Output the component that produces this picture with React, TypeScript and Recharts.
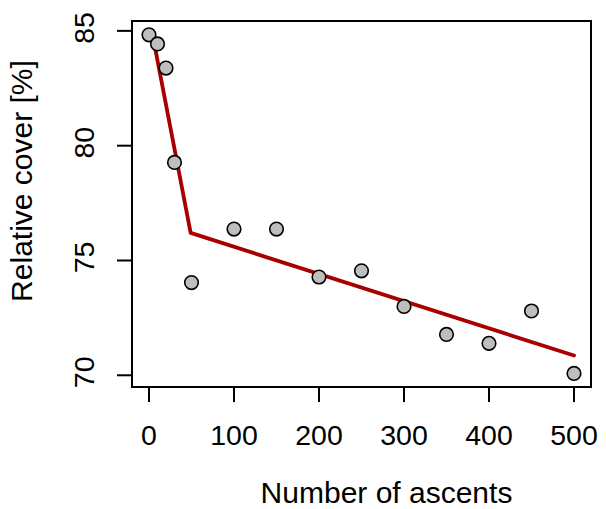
import React from 'react';
import { ComposedChart, XAxis, YAxis, Scatter, Line, ReferenceArea, Label } from 'recharts';

const ascents = [0, 10, 20, 30, 50, 100, 150, 200, 250, 300, 350, 400, 450, 500];
const cover = [84.83, 84.43, 83.38, 79.27, 74.04, 76.37, 76.37, 74.28, 74.55, 73.0, 71.78, 71.39, 72.8, 70.08];
const fitX = [5, 49, 500];
const fitY = [84.67, 76.2, 70.86];
const xTicks = [0, 100, 200, 300, 400, 500];
const yTicks = [70, 75, 80, 85];
const xLabel = 'Number of ascents';
const yLabel = 'Relative cover [%]';

const points = ascents.map((x, i) => ({ x, y: cover[i] }));
const fitLine = fitX.map((x, i) => ({ x, y: fitY[i] }));

const FONT = '"Liberation Sans", Arial, Helvetica, sans-serif';
const X_DOMAIN: [number, number] = [-20, 520];
const Y_DOMAIN: [number, number] = [69.49, 85.43];

const XTick = (props: any) => {
  const { x, y, payload } = props;
  return (
    <text x={x} y={y + 42.6} textAnchor="middle" fontSize={28.5} fontFamily={FONT} fill="#000">
      {payload.value}
    </text>
  );
};

const YTick = (props: any) => {
  const { x, y, payload } = props;
  const cx = x - 23.2;
  const cy = y - 3;
  return (
    <text x={cx} y={cy} transform={`rotate(-90, ${cx}, ${cy})`} textAnchor="middle" fontSize={28.5} fontFamily={FONT} fill="#000">
      {payload.value}
    </text>
  );
};

const XTitle = () => (
  <text x={386.5} y={503} textAnchor="middle" fontSize={30} fontFamily={FONT} fill="#000">
    {xLabel}
  </text>
);

const YTitle = () => (
  <text x={32.3} y={181} transform="rotate(-90, 32.3, 181)" textAnchor="middle" fontSize={30} fontFamily={FONT} fill="#000">
    {yLabel}
  </text>
);

const Dot = (props: any) => {
  const { cx, cy } = props;
  return <circle cx={cx} cy={cy} r={6.8} fill="#BEBEBE" stroke="#000" strokeWidth={1.6} />;
};

export default function App() {
  return (
    <div style={{ position: 'absolute', left: 0, top: 0, width: 606, height: 509, background: '#fff' }}>
      <ComposedChart width={606} height={509} margin={{ top: 21, right: 15, bottom: 0, left: 0 }}>
        <XAxis
          type="number"
          dataKey="x"
          domain={X_DOMAIN}
          ticks={xTicks}
          interval={0}
          allowDataOverflow
          axisLine={false}
          tickLine={{ stroke: '#000', strokeWidth: 2 }}
          tickSize={15}
          tickMargin={0}
          height={122}
          tick={XTick}
        >
          <Label content={XTitle} />
        </XAxis>
        <YAxis
          type="number"
          dataKey="y"
          domain={Y_DOMAIN}
          ticks={yTicks}
          interval={0}
          allowDataOverflow
          axisLine={false}
          tickLine={{ stroke: '#000', strokeWidth: 2 }}
          tickSize={15}
          tickMargin={0}
          width={132}
          tick={YTick}
        >
          <Label content={YTitle} />
        </YAxis>
        <ReferenceArea
          x1={X_DOMAIN[0]}
          x2={X_DOMAIN[1]}
          y1={Y_DOMAIN[0]}
          y2={Y_DOMAIN[1]}
          fill="none"
          fillOpacity={0}
          stroke="#000"
          strokeWidth={2}
          ifOverflow="visible"
        />
        <Scatter data={points} dataKey="y" shape={Dot} isAnimationActive={false} />
        <Line
          data={fitLine}
          dataKey="y"
          type="linear"
          stroke="#A80000"
          strokeWidth={3.8}
          strokeLinejoin="round"
          strokeLinecap="round"
          dot={false}
          activeDot={false}
          isAnimationActive={false}
        />
      </ComposedChart>
    </div>
  );
}
